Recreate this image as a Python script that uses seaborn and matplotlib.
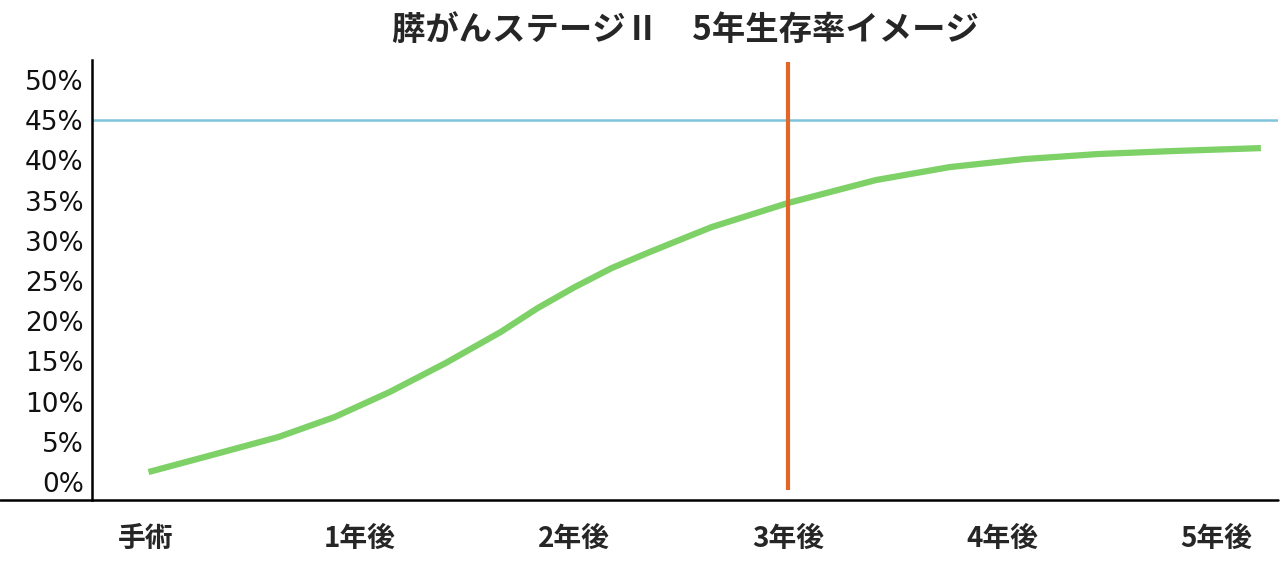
import matplotlib
matplotlib.use("Agg")
import matplotlib.pyplot as plt
from matplotlib.lines import Line2D
import seaborn as sns
import pandas as pd

# --- data ---
categories = ["手術", "1年後", "2年後", "3年後", "4年後", "5年後"]
years = [0.014, 0.276, 0.621, 0.883, 1.140, 1.402, 1.659, 1.832, 2.005,
         2.178, 2.355, 2.528, 2.645, 3.000, 3.411, 3.757, 4.103, 4.449,
         4.794, 5.210]
survival = [1.24, 3.11, 5.60, 8.08, 11.19, 14.80, 18.66, 21.64, 24.25,
            26.62, 28.61, 30.47, 31.72, 34.70, 37.56, 39.18, 40.17, 40.80,
            41.17, 41.54]
y_ticks = [0, 5, 10, 15, 20, 25, 30, 35, 40, 45, 50]
ref_level = 45
ref_year = 3
title = "膵がんステージⅡ　5年生存率イメージ"

df = pd.DataFrame({"year": years, "survival": survival})

sns.set_theme(style="white")
plt.rcParams["font.family"] = ["DejaVu Sans", "Noto Sans CJK JP"]

fig = plt.figure(figsize=(12.8, 5.75), dpi=100)
ax = fig.add_axes([92 / 1280, 1 - 500 / 575, (1278 - 92) / 1280, (500 - 60) / 575])

ax.axhline(ref_level, color="#7fc4dc", lw=1.8, zorder=1)
sns.lineplot(data=df, x="year", y="survival", ax=ax, color="#7dd166",
             lw=4.5, zorder=2, solid_capstyle="butt", solid_joinstyle="round")
ax.vlines(ref_year, -1.0, 52.2, color="#e2662a", lw=3, zorder=3)

ax.set_xlim(-0.25, 5.29)
ax.set_ylim(-2.24, 52.5)
ax.set_xticks(range(len(categories)))
ax.set_xticklabels(categories, fontfamily=["Noto Sans CJK JP"],
                   fontweight="bold", fontsize=20)
ax.set_yticks(y_ticks)
ax.set_yticklabels([f"{v}%" for v in y_ticks], fontsize=19, color="#111111",
                   fontfamily=["DejaVu Sans"])
ax.tick_params(axis="x", length=0, pad=18)
ax.tick_params(axis="y", length=0, pad=6)
ax.set_xlabel("")
ax.set_ylabel("")

for s in ["top", "right"]:
    ax.spines[s].set_visible(False)
ax.spines["left"].set_color("black")
ax.spines["left"].set_linewidth(1.8)
ax.spines["bottom"].set_visible(False)
fig.add_artist(Line2D([0, 1278 / 1280], [1 - 500 / 575, 1 - 500 / 575],
                      color="black", lw=1.8, transform=fig.transFigure))

fig.text(685 / 1280, 1 - 30 / 575, title, ha="center", va="center",
         fontsize=24, fontweight="bold", family=["Noto Sans CJK JP"])

fig.savefig("out.png", dpi=100)
